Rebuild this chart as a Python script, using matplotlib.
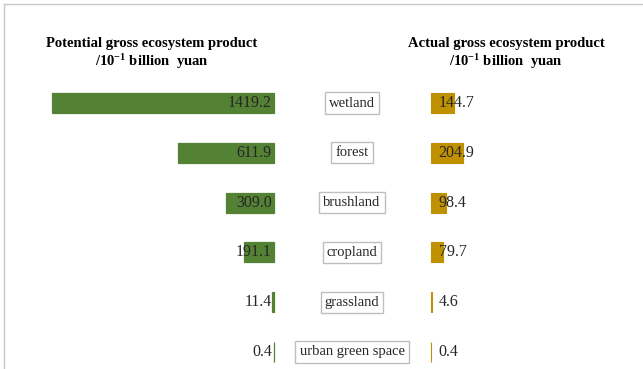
import matplotlib.pyplot as plt
from matplotlib.lines import Line2D
from matplotlib.transforms import blended_transform_factory

plt.rcParams['font.family'] = ['Liberation Serif', 'DejaVu Serif']
plt.rcParams['mathtext.fontset'] = 'custom'
plt.rcParams['mathtext.rm'] = 'Liberation Serif'
plt.rcParams['mathtext.bf'] = 'Liberation Serif:bold'

categories = ['wetland', 'forest', 'brushland', 'cropland', 'grassland', 'urban green space']
potential = [1419.2, 611.9, 309.0, 191.1, 11.4, 0.4]
actual = [144.7, 204.9, 98.4, 79.7, 4.6, 0.4]

GREEN = '#548235'
GOLD = '#bf9000'

W, H = 643, 369
fig = plt.figure(figsize=(W / 100, H / 100), dpi=100)

# pixel layout of the two bar panels
px_per_unit = 222 / 1419.2
row_h = 49.8
top = 103 - row_h / 2
ax_h = row_h * len(categories)

def axes_px(x0, x1):
    return [x0 / W, (H - top - ax_h) / H, (x1 - x0) / W, ax_h / H]

left_x0 = 20
axL = fig.add_axes(axes_px(left_x0, 274))
axR = fig.add_axes(axes_px(431, 643))
axL.set_xlim((274 - left_x0) / px_per_unit, 0)
axR.set_xlim(0, (643 - 431) / px_per_unit)

ypos = list(range(len(categories)))
for ax in (axL, axR):
    ax.set_ylim(len(categories) - 0.5, -0.5)
    ax.axis('off')

barsL = axL.barh(ypos, potential, height=0.4, color=GREEN, edgecolor=GREEN, linewidth=0.9)
barsR = axR.barh(ypos, actual, height=0.4, color=GOLD, edgecolor=GOLD, linewidth=0.8)
for b in list(barsL) + list(barsR):
    b.set_clip_on(False)

for y, v in zip(ypos, potential):
    axL.annotate(f'{v:.1f}', (0, y), xytext=(-1.5, 0), textcoords='offset points',
                 ha='right', va='center', fontsize=11.5, color='#262626')
for y, v in zip(ypos, actual):
    axR.annotate(f'{v:.1f}', (0, y), xytext=(5.5, 0), textcoords='offset points',
                 ha='left', va='center', fontsize=11.5, color='#262626')

trans = blended_transform_factory(fig.transFigure, axL.transData)
for y, c in zip(ypos, categories):
    axL.text(352 / W, y, c, transform=trans, ha='center', va='center',
             fontsize=10.5, color='#262626', clip_on=False,
             bbox=dict(boxstyle='square,pad=0.28', fc='white', ec='#bfbfbf', lw=1))

fig.text(152 / W, 1 - 44 / H, 'Potential gross ecosystem product', ha='center', va='center',
         fontsize=10.5, fontweight='bold')
fig.text(152 / W, 1 - 62 / H, r'/10$\mathbf{^{-1}}$ billion  yuan', ha='center', va='center',
         fontsize=10.5, fontweight='bold')
fig.text(506 / W, 1 - 44 / H, 'Actual gross ecosystem product', ha='center', va='center',
         fontsize=10.5, fontweight='bold')
fig.text(506 / W, 1 - 62 / H, r'/10$\mathbf{^{-1}}$ billion  yuan', ha='center', va='center',
         fontsize=10.5, fontweight='bold')

# chart-area border (top and left only visible)
fig.add_artist(Line2D([4 / W, 4 / W], [0, 1 - 4 / H], transform=fig.transFigure, color='#c8c8c8', lw=1))
fig.add_artist(Line2D([4 / W, 1], [1 - 4 / H, 1 - 4 / H], transform=fig.transFigure, color='#c8c8c8', lw=1))

fig.savefig('out.png', dpi=100, facecolor='white')
